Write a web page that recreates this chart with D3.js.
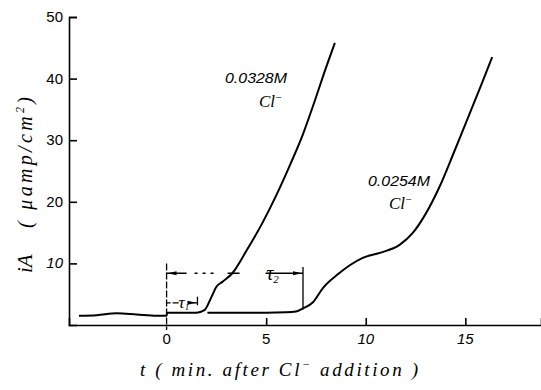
<!DOCTYPE html>
<html>
<head>
<meta charset="utf-8">
<script src="https://cdn.jsdelivr.net/npm/d3@7"></script>
<style>
  html, body { margin: 0; padding: 0; background: #fff; }
  svg { display: block; }
  text { fill: #000; }
</style>
</head>
<body>
<svg id="chart" width="541" height="390"></svg>
<script>
// Anodic current density iA (µA/cm²) vs time after Cl⁻ addition (min)
const t1 = [-4.4, -3.5, -2.5, -1.5, -0.5, 0, 0.02, 0.8, 1.5, 1.9, 2.26, 2.5, 2.8, 3.3, 4.0, 4.8, 5.5, 6.2, 6.85, 7.4, 7.9, 8.45];
const v1 = [1.5, 1.6, 1.9, 1.7, 1.5, 1.5, 2.0, 2.0, 2.0, 2.4, 4.6, 6.2, 7.0, 8.4, 12, 16.5, 21, 26, 31, 36, 40.8, 45.8];

const t2 = [2.05, 3, 4, 5, 6, 6.5, 6.85, 7.35, 7.85, 8.55, 9.2, 9.85, 10.7, 11.7, 12.35, 13.0, 13.7, 14.4, 15.1, 15.8, 16.35];
const v2 = [2.0, 2.0, 2.0, 2.0, 2.05, 2.2, 2.7, 3.7, 6.0, 8.1, 9.7, 10.9, 11.7, 13.0, 14.9, 18.0, 22.4, 27.8, 33.4, 39.0, 43.5];

const xTicks = [0, 5, 10, 15];
const yTicks = [10, 20, 30, 40, 50];
const seriesLabels = ["0.0328M", "0.0254M"];

// induction times τ1, τ2 (min) and levels of their dimension lines (µA/cm²)
const tau1 = 1.55, tau2 = 6.85;
const tau1Level = 3.6, tau2Level = 8.4;

const svg = d3.select("#chart");
const x = d3.scaleLinear().domain([-4.9, 18.8]).range([69, 541]);
const y = d3.scaleLinear().domain([0, 50]).range([325, 17]);

const handFont = "'Liberation Serif', 'DejaVu Serif', serif";

// axes
const yAxis = d3.axisRight(y).tickValues(yTicks).tickSize(8).tickFormat("");
const gy = svg.append("g").attr("transform", `translate(${x(-4.9)},0)`).call(yAxis);
const xAxis = d3.axisTop(x).tickValues(xTicks.filter(d => d !== 0)).tickSize(7).tickFormat("");
const gx = svg.append("g").attr("transform", `translate(0,${y(0)})`).call(xAxis);
[gx, gy].forEach(g => {
  g.select(".domain").attr("stroke", "#000").attr("stroke-width", 1.6);
  g.selectAll(".tick line").attr("stroke", "#000").attr("stroke-width", 1.6);
});

// tick labels
svg.append("g").selectAll("text").data(yTicks).join("text")
  .attr("x", x(-4.9) - 6).attr("y", d => y(d) + 5)
  .attr("text-anchor", "end")
  .attr("font-family", "'Liberation Sans', sans-serif")
  .attr("font-size", 15)
  .attr("font-style", d => d === 10 ? "italic" : "normal")
  .text(d => d);
svg.append("g").selectAll("text").data(xTicks).join("text")
  .attr("x", d => x(d)).attr("y", y(0) + 19)
  .attr("text-anchor", "middle")
  .attr("font-family", "'Liberation Sans', sans-serif")
  .attr("font-size", 15)
  .attr("font-style", d => d >= 10 ? "italic" : "normal")
  .text(d => d);

// curves
const line = d3.line().x(d => x(d[0])).y(d => y(d[1])).curve(d3.curveMonotoneX);
[[t1, v1], [t2, v2]].forEach(([t, v]) => {
  svg.append("path")
    .datum(t.map((d, i) => [d, v[i]]))
    .attr("d", line)
    .attr("fill", "none")
    .attr("stroke", "#000")
    .attr("stroke-width", 2)
    .attr("stroke-linejoin", "round");
});

// dimension lines for τ1 and τ2
const ann = svg.append("g").attr("stroke", "#000").attr("stroke-width", 1.3).attr("fill", "none");
ann.append("line")
  .attr("x1", x(0)).attr("x2", x(0))
  .attr("y1", y(10)).attr("y2", y(0) + 5)
  .attr("stroke-dasharray", "7,2");
ann.append("line")
  .attr("x1", x(tau2)).attr("x2", x(tau2))
  .attr("y1", y(9.4)).attr("y2", y(2.5));
ann.append("line")
  .attr("x1", x(tau1)).attr("x2", x(tau1))
  .attr("y1", y(4.6)).attr("y2", y(3.2));
ann.append("line")
  .attr("x1", x(0)).attr("x2", x(tau2))
  .attr("y1", y(tau2Level)).attr("y2", y(tau2Level))
  .attr("stroke-dasharray", "20,8,3,5,3,5,3,14,12,26,40");
ann.append("line")
  .attr("x1", x(0)).attr("x2", x(tau1))
  .attr("y1", y(tau1Level)).attr("y2", y(tau1Level))
  .attr("stroke-dasharray", "4,2,6,14,60");

function arrowHead(xTip, yv, dir) {
  const px = x(xTip), py = y(yv);
  svg.append("path")
    .attr("d", `M${px},${py} L${px + dir * 9},${py - 2} L${px + dir * 9},${py + 2} Z`)
    .attr("fill", "#000");
}
arrowHead(x.invert(x(0) + 1), tau2Level, 1);
arrowHead(x.invert(x(tau2) - 1), tau2Level, -1);
arrowHead(x.invert(x(tau1) - 1), tau1Level, -1);

// τ labels
svg.append("text").attr("x", x(5.0)).attr("y", y(tau2Level) + 7)
  .attr("font-family", handFont).attr("font-style", "italic").attr("font-size", 20)
  .text("τ").append("tspan").attr("font-size", 11).attr("dy", 3).text("2");
svg.append("text").attr("x", x(0.6)).attr("y", y(tau1Level) + 5)
  .attr("font-family", handFont).attr("font-style", "italic").attr("font-size", 17)
  .text("τ").append("tspan").attr("font-size", 9).attr("dy", 2).text("1");

// concentration labels
function concLabel(label, lx, ly, clx, cly) {
  svg.append("text").attr("x", lx).attr("y", ly)
    .attr("font-family", "'Liberation Sans', sans-serif").attr("font-size", 14)
    .attr("font-style", "italic")
    .attr("textLength", 62).attr("lengthAdjust", "spacingAndGlyphs")
    .text(label);
  const c = svg.append("text").attr("x", clx).attr("y", cly)
    .attr("font-family", handFont).attr("font-style", "italic").attr("font-size", 17);
  c.append("tspan").text("Cl");
  c.append("tspan").attr("font-size", 11).attr("dy", -6).text("−");
}
concLabel(seriesLabels[0], 225, 83, 259, 107);
concLabel(seriesLabels[1], 368, 186, 389, 209);

// axis titles
const xt = svg.append("text").attr("x", 140).attr("y", 376)
  .attr("font-family", handFont).attr("font-style", "italic").attr("font-size", 19)
  .attr("textLength", 278).attr("lengthAdjust", "spacing");
xt.append("tspan").text("t  ( min. after Cl");
xt.append("tspan").attr("font-size", 12).attr("dy", -8).text("−");
xt.append("tspan").attr("dy", 8).text(" addition )");

svg.append("text")
  .attr("transform", "translate(32,273) rotate(-90)")
  .attr("font-family", handFont).attr("font-style", "italic").attr("font-size", 21)
  .text("iA");
const yt = svg.append("text")
  .attr("transform", "translate(32,228) rotate(-90)")
  .attr("font-family", handFont).attr("font-style", "italic").attr("font-size", 20)
  .attr("textLength", 131).attr("lengthAdjust", "spacing");
yt.append("tspan").text("( μamp/cm");
yt.append("tspan").attr("font-size", 12).attr("dy", -8).text("2");
yt.append("tspan").attr("dy", 8).text(")");
</script>
</body>
</html>
